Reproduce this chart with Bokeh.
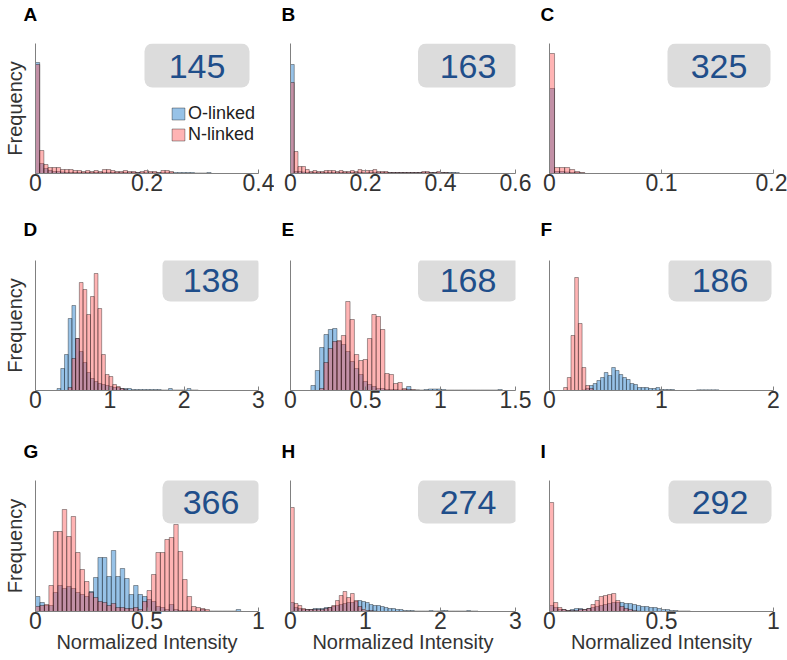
import numpy as np
from bokeh.plotting import figure
from bokeh.models import (FixedTicker, CustomJSTickFormatter, Label, BoxAnnotation,
                          Legend, LegendItem, Range1d, Title)
from bokeh.layouts import row, column
from bokeh.embed import file_html
from bokeh.resources import INLINE

# ---------------- data (bin start, bin width, O-linked counts, N-linked counts) ----------------
A_start, A_width = 0.0, 0.0075
A_O = [111, 10, 5, 3, 2, 2, 1.5, 1, 1, 1, 1, 1, 1, 1, 1, 1, 1, 1, 1, 1, 1, 1, 1, 1, 1, 0.8, 0.8,
       0.8, 0.8, 0.8, 0.8, 0.8, 0.8, 1, 1, 1, 1, 1, 0.5, 0.5, 0.5, 1]
A_N = [109, 23, 9, 6, 6, 6, 4, 4, 4, 3, 3, 2, 3, 2, 3, 2, 4, 4, 3, 2, 2, 3, 2, 2, 1, 2, 3, 2,
       2, 1, 3, 3, 2]

B_start, B_width = 0.0, 0.01
B_O = [109, 2, 2, 1.5, 1, 1, 1, 1, 1, 1, 1, 1, 1, 1, 1, 1, 1, 1, 1, 1, 1, 1, 1, 1, 1, 1, 1, 1,
       1, 1, 1, 1, 1, 1, 1, 1, 1, 1, 1, 1, 1, 1, 1, 1, 1]
B_N = [91, 22, 7, 7, 4, 2, 3, 2, 2, 3, 3, 3, 2, 3, 2, 2, 3, 2, 4, 3, 3, 3, 4, 2, 2, 2, 1, 1, 1,
       1, 1, 1, 1, 1, 1, 2, 2, 1, 1, 2, 1, 1, 0.5, 0.5]

C_start, C_width = 0.0, 0.0045
C_O = [85, 2, 2, 1.5, 1, 1, 0.5]
C_N = [120, 6, 6, 6, 4, 2, 1]

D_start, D_width = 0.29, 0.05
D_O = [2, 22, 36, 72, 85, 52, 39, 28, 18, 12, 9, 7, 6, 5, 4, 3, 3, 2, 2, 2, 1, 1, 1, 1, 1, 1, 1,
       1, 0.5, 0.5, 2, 0.5, 0.5, 0.5, 0.5, 2, 0.5, 0.5]
D_N = [0, 0, 0, 3, 32, 52, 108, 101, 76, 94, 117, 82, 36, 16, 14, 6, 4, 2, 1]

E_start, E_width = 0.136, 0.029
E_O = [5, 20, 43, 56, 61, 62, 49, 46, 39, 29, 22, 16, 9, 6, 4, 2, 2, 1, 1, 1, 0.5, 1, 4, 0.5,
       0.5, 0.5, 1, 1.5, 1.5, 1.5, 1, 0.5, 0.5, 0.5, 0.5, 0.5, 0.5, 0.5, 0.5, 0.5, 0.5, 0.5, 0.5, 1]
E_N = [0, 0, 2, 28, 42, 49, 50, 55, 89, 71, 36, 30, 31, 52, 76, 74, 61, 17, 16, 7, 8, 2, 1, 1, 0.5]

F_start, F_width = 0.126, 0.033
F_O = [0, 0, 0, 0, 0, 0.5, 2, 5, 7, 10, 13, 18, 15, 23, 20, 16, 13, 11, 7, 6, 3, 3, 3, 2, 2, 3,
       1, 1, 1, 1, 0, 0, 0, 0, 0, 0, 0.7, 0.7, 0.7, 0.7, 0.7, 0.7]
F_N = [3, 13, 55, 113, 67, 23, 5, 2]

G_start, G_width = 0.0, 0.02
G_O = [15, 9, 6, 6, 19, 26, 23, 25, 23, 19, 17, 15, 20, 34, 54, 54, 35, 61, 35, 43, 33, 17, 26,
       17, 15, 12, 10, 5, 4, 2, 7, 2, 1, 1, 1, 0.5, 0.5, 2, 0.5, 0.5, 0.5, 0.5, 0.5, 0.5, 0.5, 2]
G_N = [5, 6, 7, 26, 80, 80, 102, 75, 95, 59, 42, 30, 19, 14, 10, 9, 6, 8, 4, 4, 3, 3, 4, 2, 10,
       21, 37, 59, 59, 72, 74, 87, 60, 32, 15, 5, 4, 3, 2]

H_start, H_width = 0.0, 0.05
H_O = [9, 4, 3, 2, 2, 2, 3, 3, 3, 4, 4, 5, 6, 7, 8, 9, 9, 10, 11, 10, 9, 7, 6, 6, 5, 4, 3, 3, 2,
       2, 1, 1, 1, 0.5, 0.5, 0.5, 0.5, 1, 0.5, 0.5, 1, 1, 0.5, 0.5, 0.5, 0.5, 0.5, 1, 0.5, 0.5]
H_N = [104, 8, 6, 3, 2, 2, 2, 2, 2, 3, 4, 6, 11, 16, 20, 14, 18, 11, 5, 2, 1, 1, 0.5]

I_start, I_width = 0.0, 0.0185
I_O = [6, 4, 2, 2, 1, 2, 3, 3, 2, 3, 4, 5, 6, 7, 8, 9, 9, 9, 8, 8, 7, 6, 5, 5, 4, 4, 3, 2, 2, 1,
       1, 0.5, 0.5, 0.5]
I_N = [109, 9, 4, 2, 1, 1, 1, 2, 2, 3, 7, 11, 15, 16, 17, 18, 11, 5, 3, 2, 1, 0.5]

panel_letters = ["A", "B", "C", "D", "E", "F", "G", "H", "I"]
panel_counts = ["145", "163", "325", "138", "168", "186", "366", "274", "292"]
x_ends = [0.4, 0.6, 0.2, 3, 1.5, 2, 1, 3, 1]
x_ticks = [[0, 0.2, 0.4], [0, 0.2, 0.4, 0.6], [0, 0.1, 0.2],
           [0, 1, 2, 3], [0, 0.5, 1, 1.5], [0, 1, 2],
           [0, 0.5, 1], [0, 1, 2, 3], [0, 0.5, 1]]
series_names = ["O-linked", "N-linked"]
y_label = "Frequency"
x_label = "Normalized Intensity"

hist_data = [(A_start, A_width, A_O, A_N), (B_start, B_width, B_O, B_N), (C_start, C_width, C_O, C_N),
             (D_start, D_width, D_O, D_N), (E_start, E_width, E_O, E_N), (F_start, F_width, F_O, F_N),
             (G_start, G_width, G_O, G_N), (H_start, H_width, H_O, H_N), (I_start, I_width, I_O, I_N)]

# ---------------- layout / style ----------------
FONT = "Liberation Sans"
TXT = "#333333"
AXC = "#808080"
BLUE, BLUE_A = "#2f86cf", 0.5
RED, RED_A = "#ff4d4d", 0.42
NUM_C = "#1f4e8a"
BOX_C = "#dcdcdc"

col_borders = [(33, 16), (16, 16), (18, 14)]
col_frame_w = [225, 225, 224]
row_borders = [(43, 42), (45, 44), (46, 48)]
row_frame_h = [130, 130, 131]
letter_dx = [-12, -9, -9]
spacer_standoff = [16, 18, 16]
# box: (right offset from frame right, width, offset above frame top)
box_geo = [(-11, 105, 0), (2.5, 100, 0), (-3, 103, 0),
           (-1, 97, 3), (2.5, 100, 3), (-2, 103, 3),
           (-1, 97, 1), (2.5, 100, 1), (-2, 103, 1)]
BOX_H = 44

fmt = CustomJSTickFormatter(code="return String(Math.round(tick*1000)/1000);")

rows = []
for r in range(3):
    figs = []
    for c in range(3):
        k = r * 3 + c
        start, width, o_vals, n_vals = hist_data[k]
        bl, br = col_borders[c]
        bt, bb = row_borders[r]
        fw, fh = col_frame_w[c], row_frame_h[r]
        p = figure(width=bl + fw + br, height=bt + fh + bb,
                   x_range=Range1d(0, x_ends[k]), y_range=Range1d(0, fh),
                   min_border_left=bl, min_border_right=br, min_border_top=bt,
                   min_border_bottom=bb, output_backend="svg", toolbar_location=None,
                   title=None)
        p.outline_line_color = None
        p.xgrid.visible = False
        p.ygrid.visible = False
        p.background_fill_color = "white"
        p.border_fill_color = "white"

        # panel letter (spacer title keeps it clear of the frame)
        p.add_layout(Title(text=" ", text_font_size="1px", standoff=spacer_standoff[r]), "above")
        p.add_layout(Title(text=panel_letters[k], align="left", offset=letter_dx[c],
                           vertical_align="bottom", standoff=0, text_font=FONT,
                           text_font_style="bold", text_font_size="19px",
                           text_color="black"), "above")

        # x axis
        xa = p.xaxis[0]
        xa.ticker = FixedTicker(ticks=x_ticks[k])
        xa.formatter = fmt
        xa.axis_line_color = AXC
        xa.major_tick_line_color = AXC
        xa.major_tick_in = 4
        xa.major_tick_out = 0
        xa.minor_tick_line_color = None
        xa.major_label_text_font = FONT
        xa.major_label_text_font_size = "23px"
        xa.major_label_text_color = TXT
        xa.major_label_standoff = 0
        if r == 2:
            xa.axis_label = x_label
            xa.axis_label_standoff = -1
            xa.axis_label_text_font = FONT
            xa.axis_label_text_font_size = "20px"
            xa.axis_label_text_font_style = "normal"
            xa.axis_label_text_color = TXT
        # y axis
        ya = p.yaxis[0]
        ya.ticker = FixedTicker(ticks=[])
        ya.axis_line_color = AXC
        ya.major_tick_line_color = None
        ya.minor_tick_line_color = None
        ya.major_tick_out = 0
        ya.major_tick_in = 0
        ya.major_label_standoff = 0
        ya.major_label_text_font_size = "0px"
        if c == 0:
            ya.axis_label = y_label
            ya.axis_label_standoff = 10
            ya.axis_label_text_font = FONT
            ya.axis_label_text_font_size = "20px"
            ya.axis_label_text_font_style = "normal"
            ya.axis_label_text_color = TXT

        o_arr = np.array(o_vals, dtype=float)
        n_arr = np.array(n_vals, dtype=float)
        eo = start + width * np.arange(len(o_arr) + 1)
        en = start + width * np.arange(len(n_arr) + 1)
        rO = p.quad(left=eo[:-1], right=eo[1:], bottom=0, top=o_arr,
                    fill_color=BLUE, fill_alpha=BLUE_A,
                    line_color="black", line_alpha=0.6, line_width=0.6)
        rN = p.quad(left=en[:-1], right=en[1:], bottom=0, top=n_arr,
                    fill_color=RED, fill_alpha=RED_A,
                    line_color="black", line_alpha=0.6, line_width=0.6)

        # count box
        dr, bw, dt = box_geo[k]
        right = fw + dr
        left = right - bw
        top = fh + dt
        bottom = top - BOX_H
        p.add_layout(BoxAnnotation(left=left, right=right, top=top, bottom=bottom,
                                   left_units="screen", right_units="screen",
                                   top_units="screen", bottom_units="screen",
                                   fill_color=BOX_C, fill_alpha=1.0, line_color=None,
                                   border_radius=8))
        p.add_layout(Label(x=(left + right) / 2, y=(top + bottom) / 2 - 1,
                           x_units="screen", y_units="screen", text=panel_counts[k],
                           text_align="center", text_baseline="middle",
                           text_font=FONT, text_font_size="34px", text_color=NUM_C))

        if k == 0:
            leg = Legend(items=[LegendItem(label=series_names[0], renderers=[rO]),
                                LegendItem(label=series_names[1], renderers=[rN])],
                         location=(135, 28), orientation="vertical")
            leg.background_fill_alpha = 0
            leg.border_line_color = None
            leg.padding = 0
            leg.margin = 0
            leg.spacing = 0
            leg.glyph_width = 16
            leg.glyph_height = 15
            leg.label_standoff = 2
            leg.label_height = 15
            leg.label_text_font = FONT
            leg.label_text_font_size = "18px"
            leg.label_text_color = "#222222"
            p.add_layout(leg)
        figs.append(p)
    rows.append(row(*figs, spacing=0))

layout = column(*rows, spacing=0)
open("out.html", "w").write(file_html(layout, INLINE))
